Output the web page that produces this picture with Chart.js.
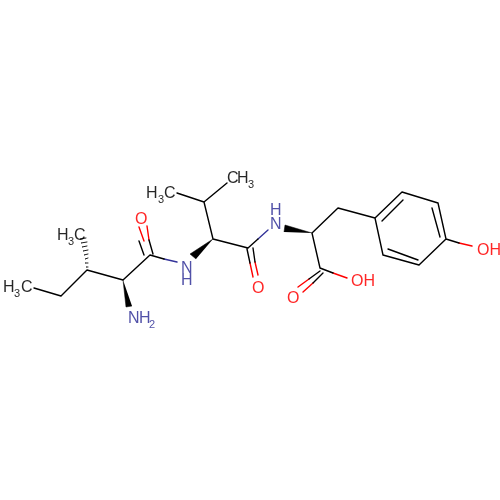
<!DOCTYPE html>
<html>
<head>
<meta charset="utf-8">
<style>
html, body { margin: 0; padding: 0; background: #fff; }
#wrap { width: 500px; height: 500px; }
</style>
<script src="https://cdn.jsdelivr.net/npm/chart.js@4"></script>
</head>
<body>
<div id="wrap"><canvas id="mol"></canvas></div>
<script>
// bonds as [x1, y1, x2, y2]
const blackBonds = [
    [34, 288, 61, 296], [61, 296, 87, 270], [87, 270, 123, 280], [123, 280, 150, 255],
    [150, 255, 164, 259], [139, 241, 144, 255], [149, 240, 153, 254],
    [204, 202, 213, 239], [204, 202, 227, 183], [204, 202, 177, 193],
    [213, 239, 248, 248], [248, 248, 258, 239],
    [247, 249, 250, 263], [253, 248, 255, 262],
    [312, 233, 338, 208], [338, 208, 375, 218], [312, 233, 320, 268],
    [320, 268, 333, 273], [320, 271, 309, 279], [323, 273, 313, 283],
    [375, 218, 402, 192], [402, 192, 438, 203], [438, 203, 446, 239],
    [446, 239, 419, 265], [419, 265, 383, 255], [383, 255, 375, 218],
    [382, 221, 403, 200], [432, 208, 440, 237], [418, 260, 388, 249],
    [446, 239, 459, 243]
];
const redBonds = [
    [139, 227, 144, 241], [147, 226, 149, 240],
    [250, 263, 253, 277], [255, 262, 258, 275],
    [333, 273, 347, 278], [309, 279, 298, 287], [313, 283, 303, 292],
    [459, 243, 472, 246]
];
const blueBonds = [
    [164, 259, 177, 262], [258, 239, 268, 230]
];
const hashBonds = [
    [86, 267, 88, 267], [85, 263, 88, 263], [85, 259, 88, 258], [84, 255, 88, 254],
    [83, 251, 88, 250], [82, 247, 87, 246], [81, 243, 87, 242], [80, 239, 86, 238]
];
const wedges = [
    [[123, 280], [126, 307], [132, 306]],
    [[213, 239], [190, 254], [196, 259]],
    [[312, 233], [285, 225], [284, 232]]
];
const labelText = ['H', '3', 'C', 'H', '3', 'C', 'N', 'H', '2', 'O', 'N', 'H', 'H', '3', 'C', 'C', 'H', '3', 'H', 'N', 'O', 'O', 'OH', 'OH'];
const labelX = [57, 68, 74, 3, 14, 21, 128, 139, 149, 135, 181, 181, 146, 158, 164, 227, 237, 248, 270, 270, 252, 287, 351, 477];
const labelY = [240, 245, 240, 292, 297, 292, 323, 323, 328, 224, 273, 285, 198, 203, 198, 183, 183, 188, 215, 229, 293, 303, 286, 255];
const labelKind = ['k', 'ks', 'k', 'k', 'ks', 'k', 'b', 'b', 'bs', 'r', 'b', 'b', 'k', 'ks', 'k', 'k', 'k', 'ks', 'b', 'b', 'r', 'r', 'r', 'r'];

const BLACK = '#000000';
const RED = '#ff0000';
const BLUE = '#333399';

function segments(list) {
    const pts = [];
    list.forEach(s => {
        pts.push({x: s[0], y: s[1]}, {x: s[2], y: s[3]}, {x: null, y: null});
    });
    return pts;
}

function bondSet(list, color, width) {
    return {
        data: segments(list),
        showLine: true,
        borderColor: color,
        borderWidth: width,
        pointRadius: 0,
        spanGaps: false,
        borderCapStyle: 'round',
        tension: 0
    };
}

const wedgeSets = wedges.map(w => ({
    data: w.map(p => ({x: p[0], y: p[1]})),
    showLine: true,
    borderColor: BLACK,
    borderWidth: 0.5,
    backgroundColor: BLACK,
    pointRadius: 0,
    fill: 'shape',
    tension: 0
}));

const atomLabels = {
    id: 'atomLabels',
    afterDatasetsDraw(chart) {
        const ctx = chart.ctx;
        const xs = chart.scales.x;
        const ys = chart.scales.y;
        ctx.save();
        ctx.textAlign = 'left';
        ctx.textBaseline = 'alphabetic';
        ctx.globalAlpha = 0.85;
        labelText.forEach((t, i) => {
            const kind = labelKind[i];
            const sub = kind.length > 1;
            ctx.font = (sub ? '11' : '16') + 'px "Liberation Sans"';
            ctx.fillStyle = kind[0] === 'r' ? RED : kind[0] === 'b' ? BLUE : BLACK;
            ctx.fillText(t, xs.getPixelForValue(labelX[i]), ys.getPixelForValue(labelY[i]));
        });
        ctx.restore();
    }
};

new Chart(document.getElementById('mol'), {
    type: 'scatter',
    data: {
        datasets: [
            bondSet(blackBonds, BLACK, 1.4),
            bondSet(redBonds, RED, 1.4),
            bondSet(blueBonds, BLUE, 1.4),
            bondSet(hashBonds, BLACK, 0.9)
        ].concat(wedgeSets)
    },
    options: {
        responsive: true,
        maintainAspectRatio: false,
        animation: false,
        layout: { padding: 0 },
        plugins: {
            legend: { display: false },
            tooltip: { enabled: false }
        },
        scales: {
            x: { type: 'linear', min: 0, max: 500, display: false },
            y: { type: 'linear', min: 0, max: 500, reverse: true, display: false }
        }
    },
    plugins: [atomLabels]
});
</script>
</body>
</html>
